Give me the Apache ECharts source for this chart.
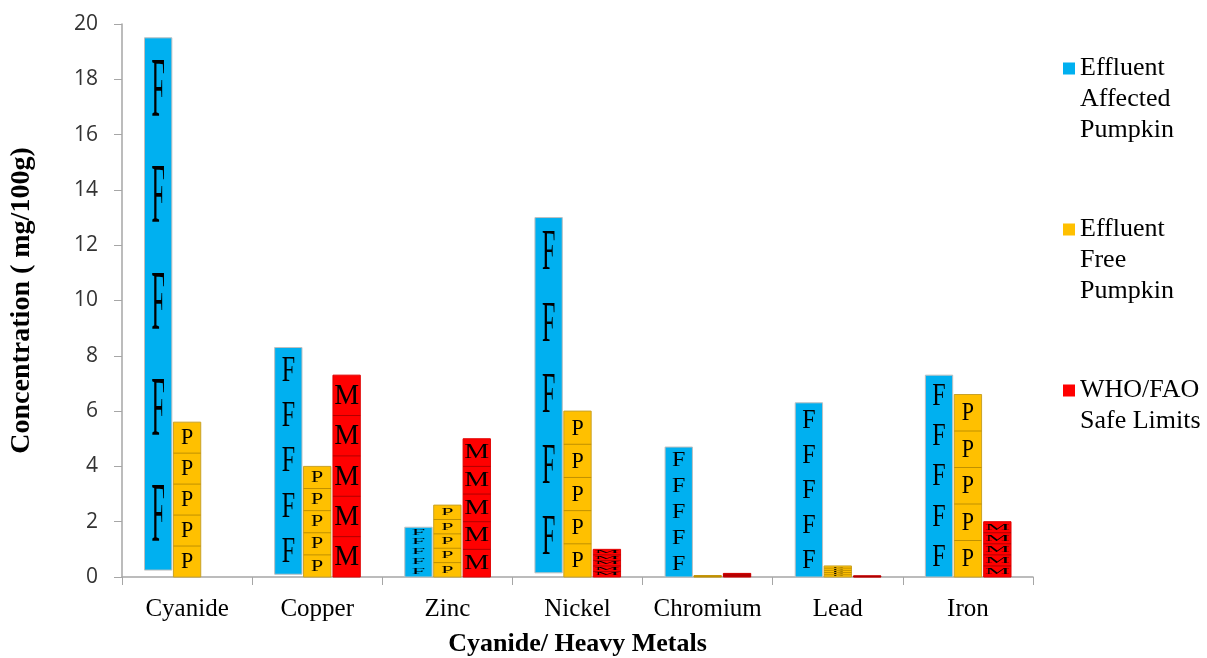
<!DOCTYPE html>
<html>
<head>
<meta charset="utf-8">
<script src="https://cdn.jsdelivr.net/npm/echarts@6/dist/echarts.min.js"></script>
<style>
html,body{margin:0;padding:0;background:#fff;}
#chart{width:1207px;height:658px;}
</style>
</head>
<body>
<div id="chart"></div>
<script>
// ---- data ----
const categories = ['Cyanide', 'Copper', 'Zinc', 'Nickel', 'Chromium', 'Lead', 'Iron'];
const seriesNames = ['Effluent\nAffected\nPumpkin', 'Effluent\nFree\nPumpkin', 'WHO/FAO\nSafe Limits'];
const affectedValues = [19.5, 8.3, 1.8, 13.0, 4.7, 6.3, 7.3];
const affectedBase   = [0.25, 0.1, 0, 0.15, 0, 0, 0];
const freeValues     = [5.6, 4.0, 2.6, 6.0, 0.05, 0.4, 6.6];
const limitValues    = [0, 7.3, 5.0, 1.0, 0.13, 0.04, 2.0];
const yTicks = {min: 0, max: 20, interval: 2};

const SERIF = 'Liberation Serif';

function buildData(vals, bases) {
  return vals.map((v, i) => [i, v, bases ? bases[i] : 0]);
}

function makeRender(cfg) {
  return function (params, api) {
    const ci = api.value(0), v = api.value(1), b = api.value(2);
    if (!(v > b)) return null;
    const band = api.size([1, 0])[0];
    const top = api.coord([ci, v]);
    const bot = api.coord([ci, b]);
    const bw = band * 0.21;
    const cx = top[0] + band * cfg.offset;
    const x0 = cx - bw / 2;
    const h = bot[1] - top[1];
    const children = [{
      type: 'rect',
      shape: {x: x0, y: top[1], width: bw, height: h},
      style: {fill: cfg.fill, stroke: cfg.border, lineWidth: 1}
    }];
    const n = 5, segH = h / n;
    for (let i = 0; i < n; i++) {
      const cy = top[1] + segH * (i + 0.5);
      const sy = (cfg.ratio * segH) / (cfg.fontSize * 0.66);
      children.push({
        type: 'text',
        x: cx, y: cy + segH * 0.02,
        scaleX: 1, scaleY: sy,
        style: {
          text: cfg.letter, x: 0, y: 0,
          fontFamily: SERIF, fontSize: cfg.fontSize,
          align: 'center', verticalAlign: 'middle', fill: '#000'
        }
      });
      if (cfg.sep && i > 0) {
        const ly = top[1] + segH * i;
        children.push({
          type: 'line',
          shape: {x1: x0, y1: ly, x2: x0 + bw, y2: ly},
          style: {stroke: cfg.sep, lineWidth: 1}
        });
      }
    }
    return {type: 'group', children: children};
  };
}

const chart = echarts.init(document.getElementById('chart'), null, {renderer: 'canvas'});
const L = 31;
const IW = 12;
// legend icon: small square aligned with the first text line (item box is 3 lines tall)
const a = L / 2 - 6, b2 = L / 2 + 6, e = 3 * L;
const legendIcon = 'path://M0,0L0.01,0L0,0ZM0,' + a + 'L' + IW + ',' + a + 'L' + IW + ',' + b2 + 'L0,' + b2 + 'ZM0,' + e + 'L0.01,' + e + 'L0,' + e + 'Z';
chart.setOption({
  backgroundColor: '#fff',
  animation: false,
  color: ['#00B0F0', '#FFC000', '#FF0000'],
  grid: {left: 122, right: 174, top: 24, bottom: 81, containLabel: false, outerBoundsMode: 'none'},
  legend: {
    orient: 'vertical',
    left: 1058,
    top: 48,
    itemWidth: IW,
    itemHeight: 3 * L,
    itemGap: 68,
    itemTextGap: 11,
    icon: legendIcon,
    data: seriesNames,
    formatter: function (name) {
      const lines = name.split('\n').length;
      return lines < 3 ? name + '\n\u00a0' : name;
    },
    textStyle: {
      fontFamily: SERIF, fontSize: 26, color: '#000', lineHeight: L
    }
  },
  xAxis: {
    type: 'category',
    data: categories,
    boundaryGap: true,
    axisLine: {lineStyle: {color: '#A6A6A6', width: 1.5}},
    axisTick: {show: true, length: 8, lineStyle: {color: '#A6A6A6'}},
    axisLabel: {fontFamily: SERIF, fontSize: 25, color: '#000', margin: 20, interval: 0},
    name: 'Cyanide/ Heavy Metals',
    nameLocation: 'middle',
    nameGap: 54,
    nameTextStyle: {fontFamily: SERIF, fontSize: 26, fontWeight: 'bold', color: '#000'}
  },
  yAxis: {
    type: 'value',
    min: yTicks.min, max: yTicks.max, interval: yTicks.interval,
    splitLine: {show: false},
    axisLine: {show: true, lineStyle: {color: '#A6A6A6', width: 1.5}},
    axisTick: {show: true, length: 8, lineStyle: {color: '#A6A6A6'}},
    axisLabel: {fontFamily: 'Open Sans', fontSize: 21, color: '#333', margin: 24},
    name: 'Concentration ( mg/100g)',
    nameLocation: 'middle',
    nameGap: 86,
    nameTextStyle: {fontFamily: SERIF, fontSize: 28, fontWeight: 'bold', color: '#000'}
  },
  series: [
    {
      name: seriesNames[0], type: 'custom',
      itemStyle: {color: '#00B0F0'},
      encode: {x: 0, y: 1},
      data: buildData(affectedValues, affectedBase),
      renderItem: makeRender({letter: 'F', fontSize: 24, ratio: 0.53, offset: -0.222,
        fill: '#00B0F0', border: '#BFBFBF', sep: null})
    },
    {
      name: seriesNames[1], type: 'custom',
      itemStyle: {color: '#FFC000'},
      encode: {x: 0, y: 1},
      data: buildData(freeValues),
      renderItem: makeRender({letter: 'P', fontSize: 22, ratio: 0.47, offset: 0,
        fill: '#FFC000', border: '#C9A227', sep: '#C09000'})
    },
    {
      name: seriesNames[2], type: 'custom',
      itemStyle: {color: '#FF0000'},
      encode: {x: 0, y: 1},
      data: buildData(limitValues),
      renderItem: makeRender({letter: 'M', fontSize: 28, ratio: 0.48, offset: 0.226,
        fill: '#FF0000', border: '#E00000', sep: '#B00000'})
    }
  ]
});
</script>
</body>
</html>
